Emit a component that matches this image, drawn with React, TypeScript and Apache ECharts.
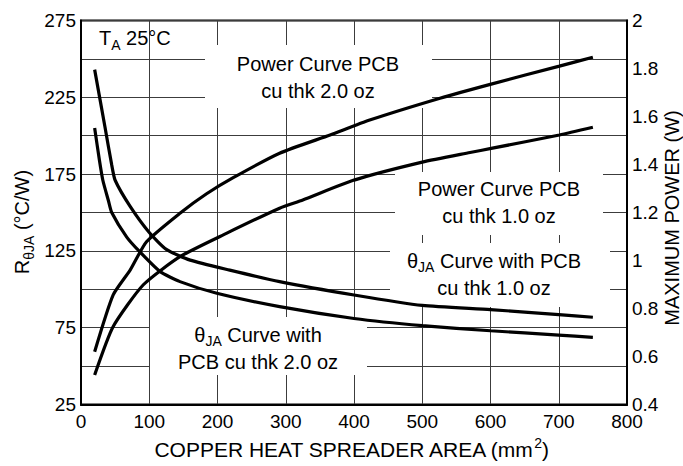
import React, { useEffect, useRef } from "react";
import * as echarts from "echarts";

// Thermal resistance curves (left axis, °C/W) vs copper area (mm²)
const theta10X = [20, 35, 45, 50, 72, 100, 125, 160, 218, 291, 400, 500, 600, 700, 750];
const theta10Y = [243, 206, 181, 171, 154, 137, 126, 119, 112.5, 105, 96.3, 89.5, 86.8, 83.5, 81.8];

const theta20X = [20, 27, 32, 40, 45, 67, 86, 116, 145, 199, 291, 400, 500, 600, 700, 750];
const theta20Y = [205, 184, 171, 158, 150, 134, 124.5, 111.5, 105, 97.4, 88.7, 81, 76.3, 73, 70.2, 68.7];

// Maximum power curves (right axis, W)
const power20X = [20, 47, 72, 96, 145, 184, 223, 291, 365, 423, 526, 601, 701, 750];
const power20Y = [0.62, 0.856, 0.96, 1.078, 1.197, 1.278, 1.345, 1.447, 1.523, 1.585, 1.676, 1.735, 1.81, 1.847];

const power10X = [20, 47, 91, 145, 213, 291, 325, 400, 500, 570, 601, 701, 750];
const power10Y = [0.523, 0.724, 0.898, 1.016, 1.113, 1.218, 1.252, 1.335, 1.41, 1.45, 1.467, 1.523, 1.555];

// Axis ranges
const xRange = [0, 800, 100];
const leftRange = [25, 275, 25];
const rightRange = [0.4, 2, 0.2];

const pairs = (xs: number[], ys: number[]) => xs.map((x, i) => [x, ys[i]]);

const FONT = "'Liberation Sans', Arial, Helvetica, sans-serif";

export default function App() {
  const ref = useRef<HTMLDivElement>(null);
  useEffect(() => {
    const chart = echarts.init(ref.current!, null, { renderer: "svg" });
    const gridLine = { show: true, lineStyle: { color: "#3c3c3c", width: 1 } };
    const axisLine = { show: true, lineStyle: { color: "#000", width: 2 } };
    const lineSeries = (name: string, data: number[][], yAxisIndex: number) => ({
      name,
      type: "line",
      yAxisIndex,
      data,
      smooth: 0.2,
      symbol: "none",
      z: 5,
      lineStyle: { color: "#000", width: 3.2 },
    });
    const rect = (x: number, y: number, w: number, h: number) => ({
      type: "rect",
      z: 2,
      shape: { x, y, width: w, height: h },
      style: { fill: "#fff" },
    });
    const sub = { fontSize: 14, fontFamily: FONT, fill: "#000", verticalAlign: "bottom", padding: [12, 0, 0, 0] };
    const norm = { fontSize: 20, fontFamily: FONT, fill: "#000" };
    const label = (x: number, y: number, text: string, rich?: any, rotation = 0, align = "center", lineHeight = 27) => ({
      type: "text",
      z: 10,
      x,
      y,
      rotation,
      style: {
        text,
        fill: "#000",
        fontSize: 20,
        fontFamily: FONT,
        align,
        textAlign: align,
        verticalAlign: "middle",
        textVerticalAlign: "middle",
        lineHeight,
        rich,
      },
    });
    chart.setOption({
      animation: false,
      backgroundColor: "#fff",
      textStyle: { fontFamily: FONT },
      grid: { left: 81, right: 56, top: 20.5, bottom: 61.5, show: true, borderColor: "#000", borderWidth: 2, backgroundColor: "transparent" },
      xAxis: {
        type: "value",
        min: xRange[0],
        max: xRange[1],
        interval: xRange[2],
        axisLine,
        axisTick: { show: false },
        axisLabel: { color: "#000", fontSize: 19, margin: 7, fontFamily: FONT },
        splitLine: gridLine,
      },
      yAxis: [
        {
          type: "value",
          min: leftRange[0],
          max: leftRange[1],
          interval: leftRange[2],
          axisLine,
          axisTick: { show: false },
          axisLabel: {
            color: "#000",
            fontSize: 19,
            margin: 5,
            fontFamily: FONT,
            formatter: (v: number) => ((v - 25) % 50 === 0 ? String(v) : ""),
          },
          splitLine: gridLine,
        },
        {
          type: "value",
          position: "right",
          min: rightRange[0],
          max: rightRange[1],
          interval: rightRange[2],
          axisLine,
          axisTick: { show: false },
          axisLabel: { color: "#000", fontSize: 19, margin: 5, fontFamily: FONT },
          splitLine: { show: false },
        },
      ],
      series: [
        lineSeries("θJA 1.0 oz", pairs(theta10X, theta10Y), 0),
        lineSeries("θJA 2.0 oz", pairs(theta20X, theta20Y), 0),
        lineSeries("Power 2.0 oz", pairs(power20X, power20Y), 1),
        lineSeries("Power 1.0 oz", pairs(power10X, power10Y), 1),
      ],
      graphic: [
        rect(205, 45, 227, 63),
        rect(395, 172, 208, 63),
        rect(390, 243, 220, 64),
        rect(150, 317, 217, 58),
        label(99, 38, "{n|T}{s|A}{n| 25°C}", { n: norm, s: sub }, 0, "left"),
        label(318, 77, "Power Curve PCB\ncu thk 2.0 oz"),
        label(499, 202, "Power Curve PCB\ncu thk 1.0 oz"),
        label(494, 274, "{n|θ}{s|JA}{n| Curve with PCB}\n{n|cu thk 1.0 oz}", { n: norm, s: sub }),
        label(258, 348, "{n|θ}{s|JA}{n| Curve with}\n{n|PCB cu thk 2.0 oz}", { n: norm, s: sub }),
        label(351, 449, "{n|COPPER HEAT SPREADER AREA (mm}{p|2}{n|)}", {
          n: { fontSize: 21, fontFamily: FONT, fill: "#000" },
          p: { fontSize: 14, fontFamily: FONT, fill: "#000", verticalAlign: "top", padding: [0, 0, 10, 0] },
        }),
        label(22, 222, "{n|R}{s|θJA}{n| (°C/W)}", { n: norm, s: sub }, Math.PI / 2),
        label(672, 218, "MAXIMUM POWER (W)", undefined, Math.PI / 2, "center", 20),
      ],
    });
    return () => chart.dispose();
  }, []);
  return <div ref={ref} style={{ position: "fixed", left: 0, top: 0, width: 683, height: 466 }} />;
}
